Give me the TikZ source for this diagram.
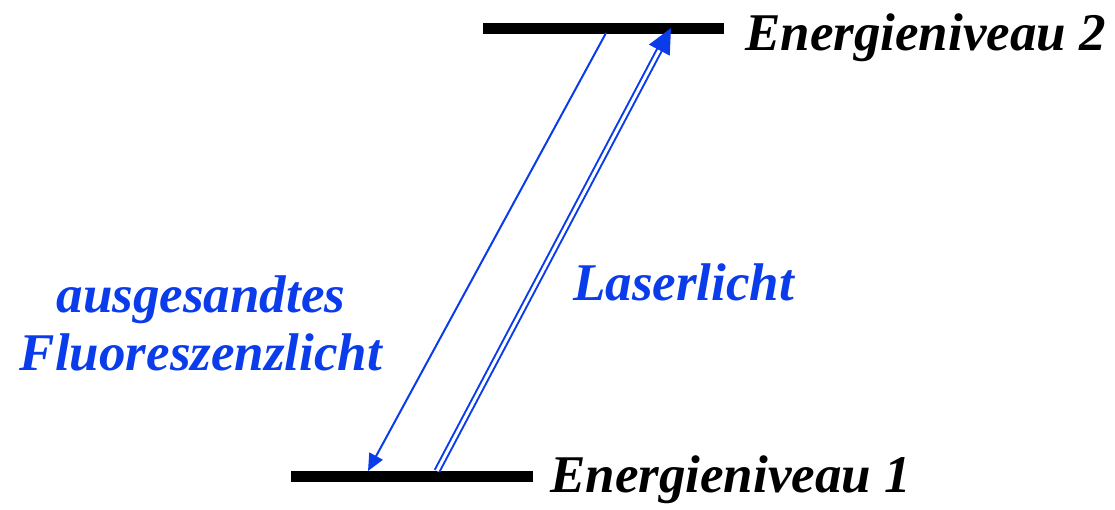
\documentclass[tikz,border=0pt]{standalone}
\usepackage{fontspec}
\setmainfont{Liberation Serif}
\usetikzlibrary{arrows.meta}
\definecolor{lightblue}{RGB}{10,60,235}
\begin{document}
\begin{tikzpicture}[
        x=1pt, y=-1pt,
        level/.style={draw, line width=11pt},
        label/.style={inner sep=0pt, font=\fontsize{53}{58}\selectfont\bfseries\itshape},
        bluelabel/.style={label, text=lightblue},
        emission/.style={draw=lightblue, line width=2pt, -{Triangle[length=17pt, width=15pt]}},
        laser/.style={draw=lightblue, double=white, line width=2pt, double distance=3pt, -{Triangle[length=25pt, width=23pt]}},
    ]
    \useasboundingbox (0,0) rectangle (1115,509);
    % energy levels
    \coordinate (up left) at (483,28);
    \coordinate (up right) at (724,28);
    \coordinate (low left) at (291,476);
    \coordinate (low right) at (533,476);
    \draw[level] (up left) -- (up right);
    \draw[level] (low left) -- (low right);
    \node[label, anchor=base west](level2) at (745,50){Energieniveau 2};
    \node[label, anchor=base west](level1) at (550,492){Energieniveau 1};
    % transitions
    \coordinate (emit start) at (606,33);
    \coordinate (emit end) at (368,471);
    \coordinate (laser start) at (437,471);
    \coordinate (laser end) at (671,28);
    \draw[emission] (emit start) -- (emit end);
    \draw[laser] (laser start) -- (laser end);
    \node[bluelabel, anchor=base west](laserlabel) at (573,300){Laserlicht};
    \node[bluelabel, anchor=base, align=center](fluolabel) at (201,370){ausgesandtes\\Fluoreszenzlicht};
\end{tikzpicture}
\end{document}
